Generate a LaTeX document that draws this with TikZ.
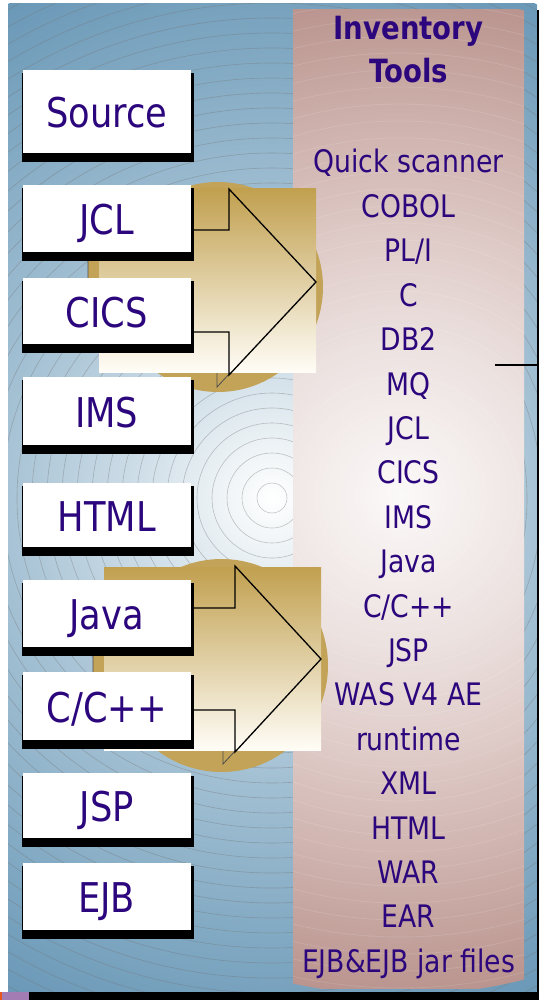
\documentclass[tikz,border=0pt]{standalone}
\usepackage{fontspec}
\setmainfont{DejaVu Sans}[FakeStretch=0.86]
\definecolor{ink}{RGB}{44,6,124}
\definecolor{bgA}{HTML}{FFFFFF}
\definecolor{bgB}{HTML}{ECF2F5}
\definecolor{bgC}{HTML}{CFDEE8}
\definecolor{bgD}{HTML}{A3C0D3}
\definecolor{bgE}{HTML}{80A8C2}
\definecolor{bgF}{HTML}{6A98B7}
\definecolor{pkA}{HTML}{FBF9F8}
\definecolor{pkB}{HTML}{F6F1F0}
\definecolor{pkC}{HTML}{ECE2E0}
\definecolor{pkD}{HTML}{E0CDCA}
\definecolor{pkE}{HTML}{CDB0AB}
\definecolor{pkF}{HTML}{BA948E}
\definecolor{gold}{HTML}{C3A357}
\definecolor{goldtop}{HTML}{C1A04F}
\definecolor{goldbot}{HTML}{FFFDF7}
\definecolor{barpurple}{HTML}{A27CB2}
\definecolor{barorange}{HTML}{E8561E}
\pgfdeclareradialshading{bgshade}{\pgfpoint{0bp}{0bp}}{color(0bp)=(bgA); color(2.5bp)=(bgB); color(6bp)=(bgC); color(12.5bp)=(bgD); color(20bp)=(bgE); color(25bp)=(bgF); color(50bp)=(bgF)}
\pgfdeclareradialshading{pinkshade}{\pgfpoint{0bp}{0bp}}{color(0bp)=(pkA); color(2.5bp)=(pkB); color(7.5bp)=(pkC); color(12.5bp)=(pkD); color(19bp)=(pkE); color(25bp)=(pkF); color(50bp)=(pkF)}
\newcommand\srcbox[4]{%
  \fill[black] (21.7,#2+3) rectangle (194.3,#3+9);
  \fill[white] (22.7,#2) rectangle (190.7,#3);
  \node[lbl] (#1) at (106.7,{(#2+#3)/2+1}) {#4};}
\begin{document}
\begin{tikzpicture}[x=1pt,y=-1pt,
  ring/.style={draw=black!55, line width=0.6pt, opacity=0.4},
  pinkring/.style={draw=white, line width=0.8pt, opacity=0.12},
  lbl/.style={inner sep=0pt, text=ink, text height=30pt, text depth=0pt,
    font=\fontsize{41}{41}\selectfont},
  item/.style={inner sep=0pt, text=ink, anchor=base,
    font=\fontsize{31}{31}\selectfont},
  titletext/.style={inner sep=0pt, text=ink, anchor=base,
    font=\fontsize{32}{32}\selectfont\bfseries},
  arrowline/.style={draw=black, line width=1.3pt, line join=miter},
  arrowshadow/.style={fill=gold, draw=black!70, line width=0.8pt},
  goldrect/.style={top color=goldtop, bottom color=goldbot, draw=none}]
\useasboundingbox (0,0) rectangle (539,1000);
\fill[white] (0,0) rectangle (539,1000);
% blue background with rings
\begin{scope}
  \clip (8,4) rectangle (537,992);
  \shade[shading=bgshade] (272,498) circle[radius=560pt];
  \foreach \r in {15,30,...,570} \draw[ring] (272,498) circle[radius=\r pt];
\end{scope}
% frame edges
\fill[black] (537,10) rectangle (539,992);
\fill[black] (29,992) rectangle (539,1000);
\fill[barpurple] (2,992) rectangle (29,1000);
\fill[barorange] (0,992) rectangle (2,1000);
% pink panel
\begin{scope}
  \clip (293,10) rectangle (524,988);
  \shade[shading=pinkshade] (400,495) circle[radius=500pt];
  \foreach \r in {17,34,...,510} \draw[pinkring] (400,495) circle[radius=\r pt];
\end{scope}
% connector stub on the right
\coordinate (stubA) at (495,365);
\coordinate (stubB) at (539,365);
\draw[line width=1.5pt] (stubA) -- (stubB);
% gold discs
\fill[gold] (218,287) circle[radius=105pt];
\fill[gold] (221.5,665.5) circle[radius=106.5pt];
% arrow shadows
\draw[arrowshadow] (88,242) -- (217,242) -- (217,201) -- (304,294) -- (217,387) -- (217,344) -- (88,344) -- cycle;
\draw[arrowshadow] (93,620) -- (223,620) -- (223,578) -- (309,671) -- (223,764) -- (223,722) -- (93,722) -- cycle;
% gradient panels
\shade[goldrect] (99,189) rectangle (316,372);
\shade[goldrect] (104,567) rectangle (321,750);
% arrow outlines
\draw[arrowline] (100,230) -- (229,230) -- (229,189) -- (316,282) -- (229,375) -- (229,332) -- (100,332);
\draw[arrowline] (105,608) -- (235,608) -- (235,566) -- (321,659) -- (235,752) -- (235,710) -- (105,710);
% source boxes
\srcbox{source}{70}{153}{Source}
\srcbox{jcl}{185}{252}{JCL}
\srcbox{cics}{278}{344}{CICS}
\srcbox{ims}{377}{445}{IMS}
\srcbox{html}{483}{547}{HTML}
\srcbox{java}{580}{647}{Java}
\srcbox{cpp}{672}{740}{C/C++}
\srcbox{jsp}{773}{838}{JSP}
\srcbox{ejb}{863}{930}{EJB}
% inventory tools list
\node[titletext] (inv) at (408.5,40) {Inventory};
\node[titletext] (tools) at (408.5,83) {Tools};
\foreach \t [count=\i from 0] in {Quick scanner,COBOL,PL/I,C,DB2,MQ,JCL,CICS,IMS,Java,C/C++,JSP,WAS V4 AE,runtime,XML,HTML,WAR,EAR,EJB\&EJB jar files}
  \node[item] (item\i) at (408.5,{173+44.4*\i}) {\t};
\end{tikzpicture}
\end{document}
